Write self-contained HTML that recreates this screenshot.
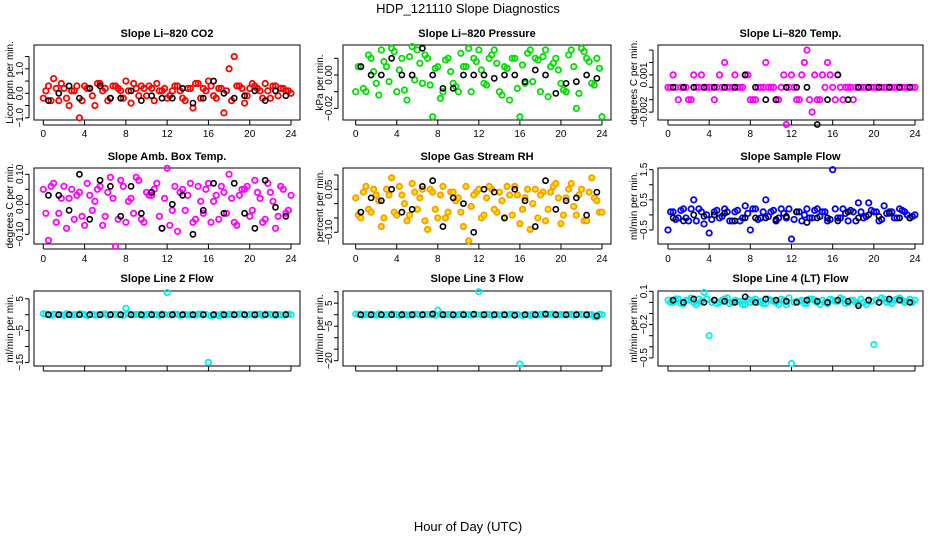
<!DOCTYPE html>
<html><head><meta charset="utf-8"><style>
html,body{margin:0;padding:0;background:#fff}
svg{display:block;font-family:"Liberation Sans",sans-serif}
</style></head><body>
<svg id="chart" width="936" height="540" viewBox="0 0 936 540" xmlns="http://www.w3.org/2000/svg">
<rect width="936" height="540" fill="#fff"/>
<text x="468" y="13" text-anchor="middle" font-size="13">HDP_121110  Slope Diagnostics</text>
<text x="468" y="531" text-anchor="middle" font-size="13">Hour of Day (UTC)</text>
</svg>
<script>
const hoursColored = [0,0.5,1,1.5,2,2.5,3,3.5,4,4.5,5,5.5,6,6.5,7,7.5,8,8.5,9,9.5,10,10.5,11,11.5,12,12.5,13,13.5,14,14.5,15,15.5,16,16.5,17,17.5,18,18.5,19,19.5,20,20.5,21,21.5,22,22.5,23,23.5,24];
const hoursColoredB = [0.25,0.75,1.25,1.75,2.25,2.75,3.25,3.75,4.25,4.75,5.25,5.75,6.25,6.75,7.25,7.75,8.25,8.75,9.25,9.75,10.25,10.75,11.25,11.75,12.25,12.75,13.25,13.75,14.25,14.75,15.25,15.75,16.25,16.75,17.25,17.75,18.25,18.75,19.25,19.75,20.25,20.75,21.25,21.75,22.25,22.75,23.25,23.75];
const hoursBlack = [0.5,1.5,2.5,3.5,4.5,5.5,6.5,7.5,8.5,9.5,10.5,11.5,12.5,13.5,14.5,15.5,16.5,17.5,18.5,19.5,20.5,21.5,22.5,23.5];
const xTicks = [0,4,8,12,16,20,24];

const co2Colored = [-0.2,0.3,0.6,-0.3,0.2,-0.5,0.1,-1.0,0.3,0.2,-0.5,0.4,0.2,-0.2,0.3,0.1,0.5,-0.4,0.2,0.3,-0.1,0.2,0.4,0.1,-0.2,0.1,0.3,-0.2,0.2,-0.6,0.4,0.2,0.5,-0.1,0.2,-0.8,1.0,1.5,0.3,-0.4,0.2,0.3,0.1,0.4,-0.2,0.3,0.2,0.1,0.0];
const co2ColoredB = [0.1,-0.3,0.2,0.4,-0.2,0.1,0.3,-0.3,0.2,-0.1,0.4,0.1,-0.3,0.3,0.2,-0.2,0.1,0.4,-0.1,0.2,0.3,-0.3,0.1,0.2,-0.1,0.3,0.1,-0.3,0.2,0.4,-0.2,0.1,0.3,-0.2,0.2,0.1,-0.3,0.3,0.2,-0.1,0.4,0.2,-0.2,0.1,0.3,-0.1,0.2,0.1];
const co2Black = [-0.3,0.0,0.3,-0.2,0.2,0.3,-0.2,-0.2,0.1,-0.3,-0.1,-0.2,-0.2,0.2,-0.4,-0.2,0.5,0.0,-0.2,-0.1,0.1,-0.3,0.1,-0.1];
const presColored = [-0.01,0.005,-0.01,0.01,-0.005,0.015,0.005,0.016,-0.01,0.01,-0.015,0.017,0.015,-0.005,0.01,-0.025,0.005,-0.01,0.01,-0.005,-0.01,0.005,0.016,0.01,0.015,-0.005,0.01,0.015,-0.01,0.005,-0.015,0.01,-0.025,-0.005,0.015,0.01,-0.01,0.015,0.005,0.01,-0.005,-0.01,0.015,-0.02,0.016,0.01,-0.005,0.01,-0.025];
const presColoredB = [0.005,-0.008,0.012,0.002,-0.012,0.008,-0.004,0.014,0.003,-0.009,0.011,-0.003,0.007,0.012,-0.006,0.004,-0.014,0.009,0.002,-0.007,0.013,0.005,-0.01,0.008,0.003,-0.006,0.012,0.007,-0.012,0.004,0.01,-0.008,0.006,0.013,-0.004,0.009,0.011,-0.013,0.007,0.003,-0.009,0.012,0.005,-0.011,0.014,0.008,-0.006,0.004];
const presBlack = [0.005,0,0,0.01,0,0,0.016,0,-0.008,-0.008,0,0,0,-0.002,0,0,-0.004,0.003,0,-0.011,-0.005,-0.004,0,-0.002];
const tempColored = [0,0.001,-0.001,0,-0.001,0.001,0,0,0,-0.001,0.001,0.002,0,0.001,0,0.001,-0.001,-0.001,0,0.002,0,-0.001,0,-0.003,0.001,-0.001,0.001,0.003,-0.002,-0.001,0.001,0.002,0,0.001,-0.001,0,-0.001,0,0,0,0,0,0,0,0,0,0,0,0];
const tempColoredB = [0,0,0,0,-0.001,0,0.001,0,0,0,0,0,0,0,0,0.001,-0.001,0,0,0,0,-0.001,0.001,0,0,-0.001,0.002,-0.001,0.001,-0.001,0,0.001,-0.001,0,0,0,0,0,0,0,0,0,0,0,0,0,0,0];
const tempBlack = [0,0,0,0,0,0,0,0.001,0,-0.001,-0.001,0,0,0,-0.003,-0.001,0.001,-0.001,0,0,0,0,0,0];
const boxColored = [0.05,-0.12,0.07,-0.03,0.06,0.02,-0.05,0.04,-0.07,0.03,0.01,0.06,-0.04,0.09,-0.14,0.08,-0.06,0.02,0.09,-0.05,0.04,0.03,0.07,-0.08,0.12,-0.02,-0.09,0.05,0.03,-0.06,0.06,-0.03,0.07,0.01,-0.05,0.04,0.1,-0.06,0.03,0.05,-0.04,0.08,0.02,-0.05,0.04,-0.08,0.06,-0.03,0.03];
const boxColoredB = [-0.03,0.06,-0.06,0.02,-0.08,0.05,0.03,-0.04,0.07,-0.02,0.05,-0.07,0.04,0.02,-0.05,0.06,0.01,-0.03,0.08,-0.06,0.03,0.05,-0.04,0.02,-0.07,0.06,0.04,-0.02,0.07,-0.05,0.01,0.05,-0.06,0.03,0.06,-0.03,0.02,-0.07,0.05,0.06,-0.02,0.04,-0.06,0.07,0.01,-0.04,0.05,-0.02];
const boxBlack = [0.03,0.03,-0.02,0.1,-0.05,0.08,0.06,-0.04,0.06,-0.03,0.04,-0.08,0.0,0.03,-0.1,-0.02,0.07,-0.03,0.07,-0.03,-0.08,0.08,-0.01,-0.04];
const rhColored = [0.02,-0.05,0.06,-0.03,0.03,-0.08,0.05,0.09,-0.04,0.03,-0.06,0.07,-0.02,0.05,-0.09,0.04,-0.05,0.06,-0.03,0.04,0.02,-0.08,-0.13,0.03,0.05,-0.04,0.06,-0.02,0.04,-0.05,0.03,0.06,-0.07,0.02,-0.09,0.05,0.03,-0.06,0.04,0.07,-0.07,0.02,0.07,-0.04,0.05,-0.06,0.09,0.01,-0.03];
const rhColoredB = [-0.04,0.04,-0.02,0.05,0.01,-0.05,0.03,-0.03,0.06,0.0,-0.04,0.04,0.02,-0.06,0.05,-0.02,0.03,-0.05,0.04,0.01,-0.03,0.06,-0.01,0.04,-0.05,0.02,0.05,-0.03,0.01,0.06,-0.04,0.03,-0.02,0.05,0.0,-0.05,0.04,-0.02,0.06,0.02,-0.04,0.05,-0.01,0.03,-0.06,0.04,0.02,-0.03];
const rhBlack = [-0.03,0.02,0.01,0.05,-0.03,-0.02,0.06,0.08,-0.08,0.02,0.0,-0.1,0.05,0.04,-0.05,0.05,0.01,-0.08,0.08,-0.02,0.01,0.02,-0.04,0.04];
const flowColored = [-0.5,0.1,-0.1,0.2,-0.2,0.5,0.2,-0.3,-0.6,0.1,-0.1,0.2,-0.2,0.1,-0.2,0.3,-0.5,0.2,-0.1,0.5,0.1,-0.2,0.2,-0.1,-0.8,0.1,-0.2,0.2,-0.1,0.2,0.1,-0.2,1.5,-0.1,0.2,-0.2,0.1,0.4,-0.1,0.4,0.1,-0.2,0.3,0.1,-0.1,0.2,0.1,-0.1,0.0];
const flowColoredB = [0.1,-0.15,0.15,-0.1,0.2,-0.2,0.1,0.0,-0.15,0.15,-0.05,0.1,-0.2,0.15,-0.1,0.05,0.2,-0.15,0.1,-0.05,0.15,-0.1,0.05,0.2,-0.15,0.1,0.0,-0.1,0.15,-0.05,0.1,-0.15,0.2,-0.1,0.05,0.15,-0.2,0.1,-0.05,0.15,0.1,-0.15,0.05,0.1,-0.1,0.15,0.0,-0.05];
const flowBlack = [-0.1,-0.2,0.0,-0.05,0.0,0.05,-0.2,-0.1,-0.1,-0.1,-0.15,-0.05,0.1,-0.25,-0.1,-0.1,-0.2,0.1,-0.1,0.0,-0.05,0.05,-0.1,-0.1];
const line2Colored = [0.3,0,0.2,0,-0.2,0.1,0,0.2,0,0.1,-0.1,0,0.2,0,0.1,0,2,0,0.1,-0.1,0,0.1,0,0.2,7,0,0.1,0,-0.1,0,0.2,0,-15,0,-0.3,0,0.1,0,0.2,0,0.1,-0.1,0.2,0,0.1,-0.2,0,0.1,0];
const line2ColoredB = [0.2,-0.2,0.1,0,0.3,-0.1,0,0.2,-0.2,0.1,0,0.2,-0.1,0.1,0,-0.2,0.2,0,0.1,-0.1,0.2,0,-0.1,0.1,0,0.2,-0.2,0.1,0,-0.1,0.2,0.1,-0.3,0,0.2,-0.1,0.1,0,0.2,-0.1,0,0.1,-0.2,0.2,0,0.1,-0.1,0.2];
const line2Black = [0,0,0,0,0,0,0,0,0,0,0,0,0,0,0,0,0,0,0,0,0,0,0,0];
const line3Colored = [0.3,0,0.2,0,-0.2,0.1,0,0.2,0,0.1,-0.1,0,0.2,0,0.1,0,2,0,0.1,-0.1,0,0.1,0,0.2,10,0,0.1,0,-0.1,0,0.2,0,-21.5,0,-0.3,0,0.1,0,0.2,0,0.1,-0.1,0.2,0,0.1,-0.2,0,-1,0];
const line3ColoredB = [0.2,-0.2,0.1,0,0.3,-0.1,0,0.2,-0.2,0.1,0,0.2,-0.1,0.1,0,-0.2,0.2,0,0.1,-0.1,0.2,0,-0.1,0.1,0,0.2,-0.2,0.1,0,-0.1,0.2,0.1,-0.3,0,0.2,-0.1,0.1,0,0.2,-0.1,0,0.1,-0.2,0.2,0,0.1,-0.8,0.2];
const line3Black = [0,0,0,0,0,0,0,0.3,0,0,0,0.2,0,0,0,-0.2,0,0,0.3,0,0,0,0,-0.5];
const line4Colored = [0.02,0.0,0.03,-0.01,0.02,0.0,0.03,0.09,-0.3,0.02,0.0,0.03,-0.01,0.02,0.01,-0.02,0.0,0.03,0.01,-0.01,0.02,0.0,0.03,-0.02,-0.55,0.01,0.02,-0.01,0.03,0.0,0.02,-0.01,0.02,0.01,0.03,0.0,0.02,-0.01,0.0,0.02,-0.38,0.0,0.03,0.01,0.02,0.04,0.0,0.03,0.02];
const line4ColoredB = [0.0,0.03,-0.01,0.02,0.04,-0.02,0.01,0.03,0.0,-0.01,0.02,0.04,0.0,0.01,-0.02,0.03,0.02,0.0,-0.01,0.03,0.01,-0.02,0.02,0.04,0.0,0.01,-0.01,0.03,0.02,-0.02,0.0,0.03,0.01,0.04,-0.01,0.02,0.0,0.03,-0.02,0.01,0.02,0.04,0.0,-0.01,0.03,0.02,0.01,0.0];
const line4Black = [0.02,0.0,0.03,0.0,0.02,0.01,0.0,0.05,0.0,0.03,0.02,0.01,0.0,0.02,0.01,0.0,0.02,0.01,-0.03,0.02,0.0,0.03,0.02,0.0];

const panels = [
 {name:'co2',title:'Slope Li\u2013820 CO2',ylab:'Licor ppm per min.',col:0,row:0,c:'#ff0000',cd:co2Colored,cb:co2ColoredB,bd:co2Black,y0:93.3,k:24.5,ticks:[1.5,1,0.5,0,-0.5,-1],labs:{'1':'1.0','0':'0.0','-1':'\u22121.0'},xl:true},
 {name:'pressure',title:'Slope Li\u2013820 Pressure',ylab:'kPa per min.',col:1,row:0,c:'#00dd00',cd:presColored,cb:presColoredB,bd:presBlack,y0:75,k:1670,ticks:[0.01,0,-0.01,-0.02],labs:{'0':'0.00','-0.02':'\u22120.02'},xl:true},
 {name:'temp',title:'Slope Li\u2013820 Temp.',ylab:'degrees C per min.',col:2,row:0,c:'#ff00ff',cd:tempColored,cb:tempColoredB,bd:tempBlack,y0:87.3,k:12400,ticks:[0.003,0.002,0.001,0,-0.001,-0.002],labs:{'0.001':'0.001','-0.002':'\u22120.002'},xl:true},
 {name:'amb-box-temp',title:'Slope Amb. Box Temp.',ylab:'degrees C per min.',col:0,row:1,c:'#ff00ff',cd:boxColored,cb:boxColoredB,bd:boxBlack,y0:204.3,k:300,ticks:[0.1,0.05,0,-0.05,-0.1],labs:{'0.1':'0.10','0':'0.00','-0.1':'\u22120.10'},xl:true},
 {name:'gas-stream-rh',title:'Slope Gas Stream RH',ylab:'percent per min.',col:1,row:1,c:'#ff9900',cd:rhColored,cb:rhColoredB,bd:rhBlack,y0:203.6,k:286.7,ticks:[0.1,0.05,0,-0.05,-0.1],labs:{'0.05':'0.05','-0.1':'\u22120.10'},xl:true},
 {name:'sample-flow',title:'Slope Sample Flow',ylab:'ml/min per min.',col:2,row:1,c:'#0000ff',cd:flowColored,cb:flowColoredB,bd:flowBlack,y0:214.9,k:30.15,ticks:[1.5,1,0.5,0,-0.5],labs:{'1.5':'1.5','0.5':'0.5','-0.5':'\u22120.5'},xl:true},
 {name:'line2-flow',title:'Slope Line 2 Flow',ylab:'ml/min per min.',col:0,row:2,c:'#00eeee',cd:line2Colored,cb:line2ColoredB,bd:line2Black,y0:314.7,k:3.18,ticks:[5,0,-5,-10,-15],labs:{'5':'5','-5':'\u22125','-15':'\u221215'},xl:false},
 {name:'line3-flow',title:'Slope Line 3 Flow',ylab:'ml/min per min.',col:1,row:2,c:'#00eeee',cd:line3Colored,cb:line3ColoredB,bd:line3Black,y0:314.7,k:2.3,ticks:[10,5,0,-5,-10,-15,-20],labs:{'5':'5','-5':'\u22125','-20':'\u221220'},xl:false},
 {name:'line4-flow',title:'Slope Line 4 (LT) Flow',ylab:'ml/min per min.',col:2,row:2,c:'#00eeee',cd:line4Colored,cb:line4ColoredB,bd:line4Black,y0:302.4,k:111,ticks:[0.1,0,-0.1,-0.2,-0.3,-0.4,-0.5],labs:{'0.1':'0.1','-0.2':'\u22120.2','-0.5':'\u22120.5'},xl:false}
];
const cols=[{l:34,r:300,x0:43.3,x24:291,dx:0},{l:343,r:611,x0:355.7,x24:602,dx:310},{l:658,r:923,x0:668,x24:915,dx:624}];
const rows=[{t:45,b:120,ty:37,xl:137},{t:168,b:244,ty:160,xl:262},{t:291,b:366,ty:282,xl:0}];
const NS='http://www.w3.org/2000/svg';
const svg=document.getElementById('chart');
function mk(tag,attrs,parent){const e=document.createElementNS(NS,tag);for(const a in attrs)e.setAttribute(a,attrs[a]);(parent||svg).appendChild(e);return e;}
panels.forEach(p=>{
  const C=cols[p.col],R=rows[p.row];
  const g=mk('g',{});
  
  
  const xs=h=>C.x0+(C.x24-C.x0)*h/24;
  const ys=v=>p.y0-v*p.k;
  const t=mk('text',{x:(C.l+C.r)/2,y:R.ty,'text-anchor':'middle','font-size':'11','font-weight':'bold'},g);
  t.textContent=p.title;
  
  
  const box=mk('rect',{x:C.l,y:R.t,width:C.r-C.l,height:R.b-R.t,fill:'none',stroke:'#000','stroke-width':1},g);
  
  
  xTicks.forEach(h=>{
    mk('line',{x1:xs(h),x2:xs(h),y1:R.b,y2:R.b+5,stroke:'#000'},g);
    if(p.xl){const tl=mk('text',{x:xs(h),y:R.xl,'text-anchor':'middle','font-size':'10'},g);tl.textContent=h;
      
      }
  });
  mk('line',{x1:xs(0),x2:xs(24),y1:R.b+5,y2:R.b+5,stroke:'#000'},g);
  const yt=p.ticks.map(ys);
  mk('line',{x1:C.l-5,x2:C.l-5,y1:Math.min(...yt),y2:Math.max(...yt),stroke:'#000'},g);
  p.ticks.forEach(v=>{
    mk('line',{x1:C.l-5,x2:C.l-9,y1:ys(v),y2:ys(v),stroke:'#000'},g);
    const key=String(v);
    if(p.labs[key]!==undefined){
      const tl=mk('text',{x:0,y:0,transform:`translate(${C.l-11},${ys(v)}) rotate(-90)`,'text-anchor':'middle','font-size':'10'},g);
      tl.textContent=p.labs[key];
      
      
    }
  });
  const yl=mk('text',{x:0,y:0,transform:`translate(${C.dx+13},${(R.t+R.b)/2}) rotate(-90)`,'text-anchor':'middle','font-size':'10'},g);
  yl.textContent=p.ylab;
  
  
  const fill=p.name==='gas-stream-rh'?'#ffee00':'none';
  p.cb.forEach((v,i)=>{
    const c=mk('circle',{cx:xs(hoursColoredB[i]),cy:ys(v),r:2.7,fill:fill,stroke:p.c,'stroke-width':1.8},g);
    
    
  });
  p.cd.forEach((v,i)=>{
    const c=mk('circle',{cx:xs(hoursColored[i]),cy:ys(v),r:2.7,fill:fill,stroke:p.c,'stroke-width':1.8},g);
    
    
  });
  p.bd.forEach((v,i)=>{
    const c=mk('circle',{cx:xs(hoursBlack[i]),cy:ys(v),r:2.6,fill:'none',stroke:'#000','stroke-width':1.6},g);
    
    
  });
});
</script>
</body></html>
